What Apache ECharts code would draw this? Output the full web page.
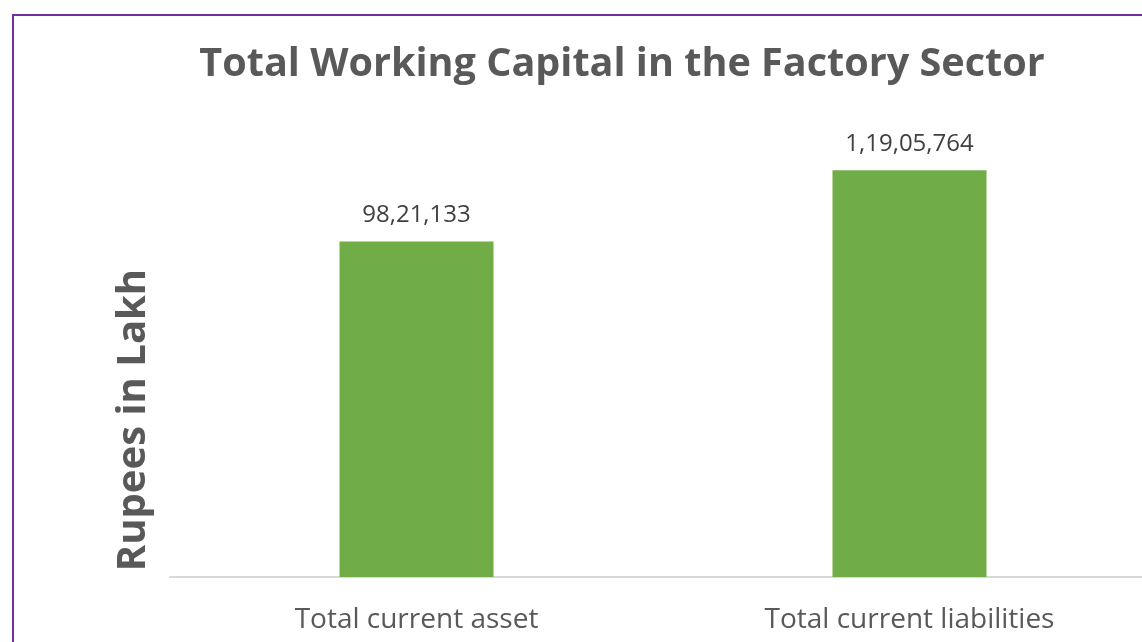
<!DOCTYPE html>
<html><head><meta charset="utf-8">
<script src="https://cdn.jsdelivr.net/npm/echarts@6/dist/echarts.min.js"></script>
<style>html,body{margin:0;padding:0;background:#fff}#c{width:1142px;height:642px}</style>
</head><body><div id="c"></div>
<script>
const categories = ["Total current asset", "Total current liabilities"];
const values = [9821133, 11905764];
const titleText = "Total Working Capital in the Factory Sector";
const yAxisName = "Rupees in Lakh";

function indianFormat(n) {
  const s = String(Math.round(n));
  if (s.length <= 3) return s;
  const last3 = s.slice(-3);
  let rest = s.slice(0, -3);
  const parts = [];
  while (rest.length > 2) { parts.unshift(rest.slice(-2)); rest = rest.slice(0, -2); }
  if (rest) parts.unshift(rest);
  return parts.join(",") + "," + last3;
}

const chart = echarts.init(document.getElementById('c'), null, {renderer: 'canvas'});
const FONT = "'Open Sans', sans-serif";
chart.setOption({
  animation: false,
  title: {
    text: titleText, left: 617, top: 40, textAlign: 'center',
    textStyle: {fontFamily: FONT, fontSize: 39.6, fontWeight: 'bold', color: '#595959'}
  },
  grid: {left: 170, width: 986, top: 133, bottom: 65, containLabel: false, outerBoundsMode: 'none'},
  xAxis: {
    type: 'category', data: categories,
    axisLine: {lineStyle: {color: '#d9d9d9', width: 2}},
    axisTick: {show: false},
    axisLabel: {fontFamily: FONT, fontSize: 28, color: '#595959', margin: 29}
  },
  yAxis: {
    type: 'value', min: 0, max: 13000000,
    name: yAxisName, nameLocation: 'middle', nameGap: 16, nameRotate: 90,
    nameTextStyle: {fontFamily: FONT, fontSize: 40, fontWeight: 'bold', color: '#595959', padding: [0, 130, 0, 0]},
    axisLine: {show: false}, axisTick: {show: false}, axisLabel: {show: false},
    splitLine: {show: false}
  },
  series: [{
    type: 'bar', data: values, barWidth: 154,
    itemStyle: {color: '#70ad47'},
    label: {show: true, position: 'top', distance: 14, fontFamily: FONT, fontSize: 24, color: '#404040',
      formatter: p => indianFormat(p.value)}
  }],
  graphic: [
    {type: 'line', shape: {x1: 12, y1: 15, x2: 1142, y2: 15}, style: {stroke: '#7030A0', lineWidth: 2}},
    {type: 'line', shape: {x1: 13, y1: 15, x2: 13, y2: 642}, style: {stroke: '#7030A0', lineWidth: 2}}
  ]
});
</script></body></html>
